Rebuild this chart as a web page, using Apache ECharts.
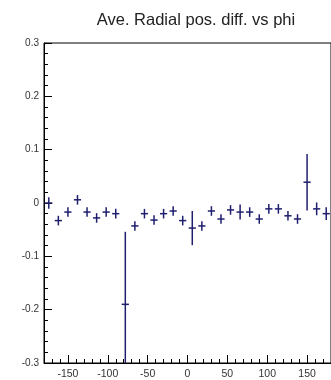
<!DOCTYPE html>
<html><head><meta charset="utf-8">
<script src="https://cdn.jsdelivr.net/npm/echarts@6/dist/echarts.min.js"></script>
<style>html,body{margin:0;padding:0;background:#fff}#c{width:331px;height:380px}</style>
</head><body><div id="c"></div>
<script>
var phi = [-174,-162,-150,-138,-126,-114,-102,-90,-78,-66,-54,-42,-30,-18,-6,6,18,30,42,54,66,78,90,102,114,126,138,150,162,174];
var values = [0.0,-0.033,-0.017,0.006,-0.017,-0.028,-0.017,-0.02,-0.19,-0.043,-0.02,-0.032,-0.02,-0.015,-0.033,-0.047,-0.043,-0.015,-0.03,-0.013,-0.017,-0.017,-0.03,-0.011,-0.011,-0.024,-0.03,0.039,-0.011,-0.02];
var errors = [0.011,0.009,0.009,0.009,0.009,0.009,0.009,0.009,0.136,0.009,0.009,0.009,0.009,0.009,0.009,0.032,0.009,0.009,0.009,0.009,0.014,0.009,0.009,0.009,0.009,0.009,0.009,0.053,0.012,0.012];
var xTickLabels = [-150,-100,-50,0,50,100,150];
var yTickLabels = [-0.3,-0.2,-0.1,0,0.1,0.2,0.3];
var binHalf = 4.5;

var data = phi.map(function(p,i){return [p, values[i], errors[i]];});
var col = '#1f1f6e';
var chart = echarts.init(document.getElementById('c'));
var font = 'Liberation Sans, Arial, sans-serif';
chart.setOption({
  animation:false,
  title:{text:'Ave. Radial pos. diff. vs phi', left:191, top:7, textAlign:'center',
    textStyle:{fontFamily:font, fontSize:16.5, fontWeight:'normal', color:'#222'}},
  grid:{left:44, top:43, right:-11, bottom:11, show:true, borderColor:'#000', borderWidth:1, containLabel:false},
  xAxis:[{
    type:'value', min:-180, max:180, gridIndex:0, position:'bottom',
    axisLine:{show:true, onZero:false, lineStyle:{color:'#000', width:1}},
    axisTick:{show:true, inside:true, length:8, customValues:xTickLabels, lineStyle:{color:'#000'}},
    axisLabel:{customValues:xTickLabels, margin:6, fontFamily:font, fontSize:10.5, color:'#333'},
    splitLine:{show:false}
  },{
    type:'value', min:-180, max:180, interval:10, gridIndex:0, position:'bottom',
    axisLine:{show:false, onZero:false}, axisLabel:{show:false}, splitLine:{show:false},
    axisTick:{show:true, inside:true, length:4, lineStyle:{color:'#000'}}
  }],
  yAxis:{
    type:'value', min:-0.3, max:0.3, interval:0.1,
    axisLine:{show:true, onZero:false, lineStyle:{color:'#000', width:1}},
    axisTick:{show:true, inside:true, length:8, lineStyle:{color:'#000'}},
    minorTick:{show:true, splitNumber:5, length:4, lineStyle:{color:'#000'}},
    axisLabel:{margin:5, fontFamily:font, fontSize:10, color:'#333',
      formatter:function(v){var r=Math.round(v*10)/10; return r===0?'0':String(r);}},
    splitLine:{show:false}
  },
  series:[{
    type:'custom', xAxisIndex:0, yAxisIndex:0, clip:true,
    data:data,
    renderItem:function(params, api){
      var x=api.value(0), y=api.value(1), e=api.value(2);
      var c=api.coord([x,y]);
      var top=api.coord([x,y+e]), bot=api.coord([x,y-e]);
      var l=api.coord([x-binHalf,y]), r=api.coord([x+binHalf,y]);
      var cs=params.coordSys;
      var ytop=Math.max(top[1], cs.y), ybot=Math.min(bot[1], cs.y+cs.height);
      var st={stroke:col, lineWidth:1.5};
      return {type:'group', children:[
        {type:'line', shape:{x1:c[0],y1:ytop,x2:c[0],y2:ybot}, style:st},
        {type:'line', shape:{x1:l[0],y1:c[1],x2:r[0],y2:c[1]}, style:st}
      ]};
    }
  }]
});
</script></body></html>
